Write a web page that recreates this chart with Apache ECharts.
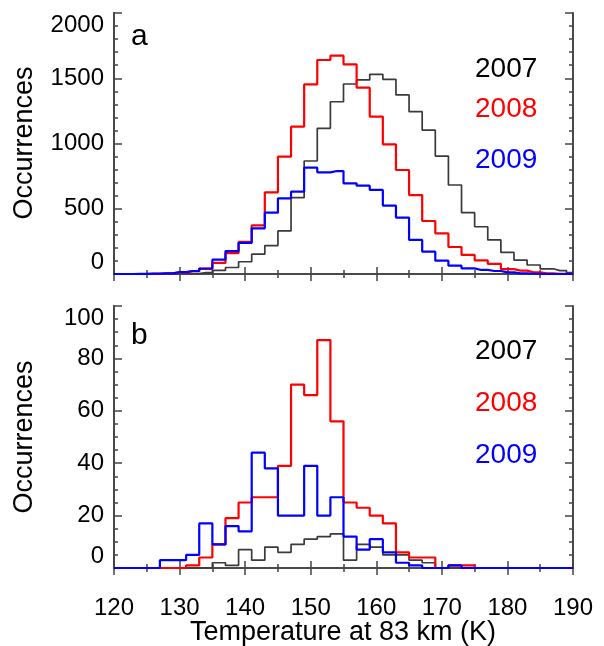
<!DOCTYPE html>
<html>
<head>
<meta charset="utf-8">
<script src="https://cdn.jsdelivr.net/npm/echarts@6/dist/echarts.min.js"></script>
<style>
  html, body { margin: 0; padding: 0; background: #fff; }
  #chart { width: 604px; height: 646px; }
</style>
</head>
<body>
<div id="chart"></div>
<script>
// bin centres (K), 2 K wide bins
const binCenters = [120, 122, 124, 126, 128, 130, 132, 134, 136, 138, 140, 142, 144, 146, 148, 150, 152, 154,
  156, 158, 160, 162, 164, 166, 168, 170, 172, 174, 176, 178, 180, 182, 184, 186, 188, 190];

// panel a
const topCounts2007 = [0, 0, 0, 0, 1, 2, 4, 10, 28, 50, 94, 152, 218, 330, 585, 866, 1116, 1320,
  1456, 1487, 1530, 1492, 1372, 1244, 1103, 904, 682, 470, 362, 261, 165, 107, 69, 40, 26, 10];
const topCounts2008 = [0, 0, 0, 2, 5, 12, 22, 40, 85, 160, 246, 372, 626, 899, 1129, 1453, 1640, 1673,
  1607, 1428, 1206, 994, 797, 605, 406, 312, 207, 146, 104, 78, 37, 26, 13, 5, 2, 0];
const topCounts2009 = [0, 0, 1, 3, 5, 14, 23, 42, 110, 176, 238, 350, 470, 580, 631, 815, 779, 789,
  695, 677, 644, 524, 432, 261, 171, 102, 64, 43, 31, 23, 13, 5, 2, 0, 0, 0];

// panel b
const botCounts2007 = [0, 0, 0, 0, 0, 0, 0, 0, 2, 1, 7, 3, 8, 6, 9, 11, 12, 13,
  3, 9, 8, 5, 5, 3, 2, 0, 0, 0, 0, 0, 0, 0, 0, 0, 0, 0];
const botCounts2008 = [0, 0, 0, 0, 0, 0, 1, 4, 9, 19, 25, 27, 27, 39, 70, 66, 87, 56,
  25, 23, 20, 17, 6, 4, 4, 0, 1, 1, 0, 0, 0, 0, 0, 0, 0, 0];
const botCounts2009 = [0, 0, 0, 0, 3, 3, 5, 17, 9, 16, 14, 44, 38, 20, 20, 39, 20, 27,
  12, 7, 11, 6, 2, 1, 0, 0, 1, 0, 0, 0, 0, 0, 0, 0, 0, 0];

const years = ['2007', '2008', '2009'];
const yearColors = ['#3a3a3a', '#ff0000', '#0000ff'];
const panelLetters = ['a', 'b'];
const xTitle = 'Temperature at 83 km (K)';
const yTitle = 'Occurrences';

const FONT = 'Liberation Sans, Arial, Helvetica, sans-serif';
const AXIS_COLOR = '#4a4a4a';
const TICK_COLOR = '#444444';

const chart = echarts.init(document.getElementById('chart'));

const grids = [
  { left: 114, right: 31, top: 13, height: 261 },
  { left: 114, right: 31, top: 306, height: 262 },
];

// labelled axes carry the numbers, tick-only axes carry the inward ticks
function makeXAxis(gridIndex, position, showLabels) {
  return {
    type: 'value',
    gridIndex,
    position,
    min: 120,
    max: 190,
    interval: 10,
    axisLine: { show: true, lineStyle: { color: AXIS_COLOR, width: 2 } },
    axisTick: { show: !showLabels, inside: true, length: 7, lineStyle: { color: TICK_COLOR, width: 1.5 } },
    minorTick: { show: !showLabels, splitNumber: 2, length: 4, lineStyle: { color: TICK_COLOR, width: 1.5 } },
    splitLine: { show: false },
    axisLabel: {
      show: showLabels,
      color: '#000',
      fontFamily: FONT,
      fontSize: 24,
      margin: 28,
      formatter: (v) => String(v),
    },
  };
}

function makeYAxis(gridIndex, position, max, interval, minorSplit, showLabels) {
  return {
    type: 'value',
    gridIndex,
    position,
    min: 0,
    max,
    interval,
    axisLine: { show: true, lineStyle: { color: AXIS_COLOR, width: 2 } },
    axisTick: { show: !showLabels, inside: true, length: 8, lineStyle: { color: TICK_COLOR, width: 1.5 } },
    minorTick: { show: !showLabels, splitNumber: minorSplit, length: 4, lineStyle: { color: TICK_COLOR, width: 1.5 } },
    splitLine: { show: false },
    axisLabel: {
      show: showLabels,
      color: '#000',
      fontFamily: FONT,
      fontSize: 24,
      margin: 10,
      formatter: (v) => String(v),
      verticalAlignMinLabel: 'bottom',
      verticalAlignMaxLabel: 'top',
    },
  };
}

function stepSeries(name, counts, color, axisIndex) {
  return {
    name,
    type: 'line',
    step: 'middle',
    xAxisIndex: axisIndex,
    yAxisIndex: axisIndex,
    data: binCenters.map((t, i) => [t, counts[i]]),
    showSymbol: false,
    symbol: 'none',
    clip: true,
    silent: true,
    lineStyle: { color, width: name === '2007' ? 1.7 : 2.2 },
  };
}

// text graphics: panel letters, year keys, axis titles
const labelGraphics = [];
const letterPos = [[131, 37], [131, 336]];
const yearYs = [[69, 109, 160], [351, 403, 455]];
panelLetters.forEach((letter, p) => {
  labelGraphics.push({
    type: 'text',
    x: letterPos[p][0],
    y: letterPos[p][1],
    style: { text: letter, fill: '#000', font: `30px ${FONT}`, verticalAlign: 'middle', align: 'left' },
  });
  years.forEach((yr, k) => {
    labelGraphics.push({
      type: 'text',
      x: 475,
      y: yearYs[p][k],
      style: { text: yr, fill: k === 0 ? '#000' : yearColors[k], font: `28px ${FONT}`, verticalAlign: 'middle', align: 'left' },
    });
  });
  labelGraphics.push({
    type: 'text',
    x: 25,
    y: p === 0 ? 143 : 437,
    rotation: Math.PI / 2,
    style: { text: yTitle, fill: '#000', font: `27px ${FONT}`, verticalAlign: 'middle', align: 'center' },
  });
});
labelGraphics.push({
  type: 'text',
  x: 343,
  y: 633,
  style: { text: xTitle, fill: '#000', font: `27px ${FONT}`, verticalAlign: 'middle', align: 'center' },
});

chart.setOption({
  animation: false,
  backgroundColor: '#fff',
  grid: grids,
  xAxis: [
    makeXAxis(0, 'bottom', false),
    makeXAxis(0, 'top', false),
    makeXAxis(1, 'bottom', true),
    makeXAxis(1, 'top', false),
    makeXAxis(1, 'bottom', false),
  ],
  yAxis: [
    makeYAxis(0, 'left', 2000, 500, 5, true),
    makeYAxis(0, 'right', 2000, 500, 5, false),
    makeYAxis(1, 'left', 100, 20, 4, true),
    makeYAxis(1, 'right', 100, 20, 4, false),
    makeYAxis(0, 'left', 2000, 500, 5, false),
    makeYAxis(1, 'left', 100, 20, 4, false),
  ],
  series: [
    stepSeries('2007', topCounts2007, yearColors[0], 0),
    stepSeries('2008', topCounts2008, yearColors[1], 0),
    stepSeries('2009', topCounts2009, yearColors[2], 0),
    stepSeries('2007', botCounts2007, yearColors[0], 2),
    stepSeries('2008', botCounts2008, yearColors[1], 2),
    stepSeries('2009', botCounts2009, yearColors[2], 2),
  ],
  graphic: labelGraphics,
});
</script>
</body>
</html>
